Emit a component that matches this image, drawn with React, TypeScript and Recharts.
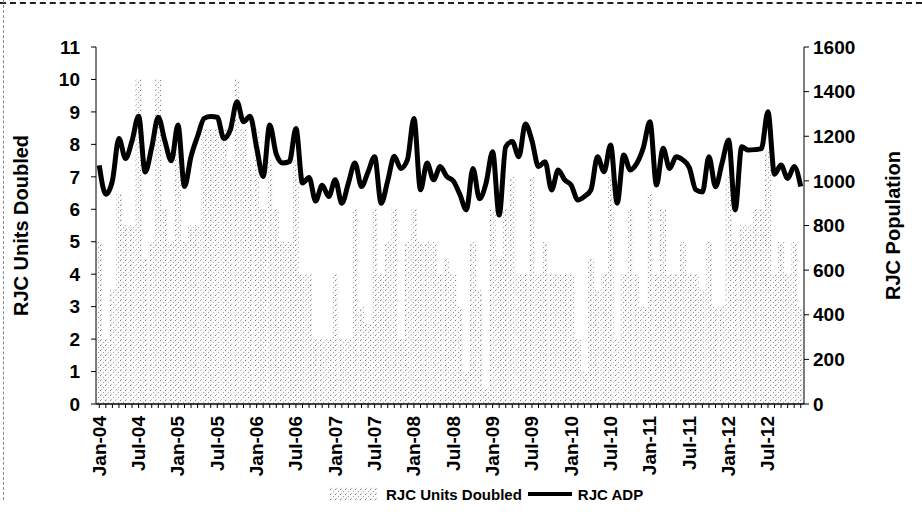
import { ComposedChart, Bar, Line, XAxis, YAxis, Label } from "recharts";

const MONTHS = ["Jan", "Feb", "Mar", "Apr", "May", "Jun", "Jul", "Aug", "Sep", "Oct", "Nov", "Dec"];
const YEARS = ["04", "05", "06", "07", "08", "09", "10", "11", "12"];
const categories = YEARS.flatMap((y) => MONTHS.map((m) => `${m}-${y}`));

// RJC Units Doubled (left axis), one value per month
const unitsDoubled = [
  5, 2, 3.5, 6.5, 5.5, 5.5, 10, 4.5, 5, 10, 6, 5,
  8.5, 5, 5.5, 5.5, 8.5, 8.5, 8.5, 8.5, 7.5, 10, 8.5, 7.5,
  8.5, 6, 7.5, 6, 5, 5, 7.5, 4, 4, 2, 2, 2,
  4, 2, 2, 6, 3, 2.5, 6, 4, 5, 6, 2, 5,
  6, 5, 5, 5, 4, 4.5, 4, 3, 1, 5, 3.5, 0.5,
  6, 4.5, 6, 7, 4, 4, 7, 4, 5, 4, 4, 4,
  4, 2, 1, 4.5, 3.5, 4, 7, 2, 4, 6, 4, 3,
  6.5, 4, 6, 4, 4, 5, 4, 4, 3.5, 5, 3, 3,
  7, 5, 5.5, 5.5, 6, 6, 7.8, 4, 5, 4, 5, 3,
];

// RJC ADP (right axis)
const adp = [
  1070, 940, 1000, 1190, 1100, 1180, 1290, 1040, 1150, 1285, 1180, 1090,
  1250, 975, 1110, 1200, 1280, 1288, 1285, 1190, 1230, 1355, 1265, 1290,
  1150, 1020, 1250, 1120, 1080, 1086, 1235, 990, 1015, 910, 980, 930,
  1005, 900, 990, 1080, 975, 1040, 1108, 900, 1000, 1110, 1056, 1094,
  1280, 960, 1080, 1005, 1064, 1020, 1000, 940, 870, 1056, 920, 990,
  1131, 847, 1153, 1176, 1108, 1255, 1180, 1064, 1086, 959, 1049, 1004,
  980, 914, 930, 960, 1108, 1041, 1161, 900, 1116, 1049, 1079, 1150,
  1265, 981, 1146, 1056, 1108, 1094, 1060, 960, 950, 1108, 974, 1080,
  1183, 870, 1153, 1138, 1140, 1145, 1310, 1030, 1071, 1011, 1064, 975,
];

const leftTicks = [0, 1, 2, 3, 4, 5, 6, 7, 8, 9, 10, 11];
const rightTicks = [0, 200, 400, 600, 800, 1000, 1200, 1400, 1600];

const data = categories.map((month, i) => ({ month, units: unitsDoubled[i], adp: adp[i] }));

const FONT = "'Liberation Sans', Arial, sans-serif";
const tickStyle = { fontSize: 19, fill: "#000", fontFamily: FONT, fontWeight: 700 };
const titleStyle = { fontSize: 20, fill: "#000", fontFamily: FONT, fontWeight: 700, textAnchor: "middle" as const };

const MonthTick = ({ x, y, payload, index }: any) => {
  if (index % 6 !== 0) return null;
  return (
    <text
      x={x}
      y={y + 6}
      transform={`rotate(-90, ${x}, ${y + 6})`}
      textAnchor="end"
      dominantBaseline="central"
      {...tickStyle}
    >
      {payload.value}
    </text>
  );
};

export default function App() {
  return (
    <div style={{ position: "absolute", left: 0, top: 0, width: 922, height: 532, background: "#fff", fontFamily: FONT }}>
      <div style={{ position: "absolute", left: 0, top: 2, width: 922, borderTop: "2px dashed #222" }} />
      <div style={{ position: "absolute", left: 3, top: 0, height: 500, borderLeft: "1px dashed #888" }} />
      <ComposedChart width={922} height={532} data={data} margin={{ top: 47, right: 58, left: 36, bottom: 58 }} barCategoryGap="4%">
        <defs>
          <pattern id="stipple" width="5" height="5" patternUnits="userSpaceOnUse">
            <rect width="5" height="5" fill="#fafafa" />
            <rect x="0" y="0" width="1" height="1" fill="#808080" />
            <rect x="3" y="2" width="1" height="1" fill="#a0a0a0" />
            <rect x="1" y="4" width="1" height="1" fill="#c0c0c0" />
          </pattern>
        </defs>
        <XAxis
          dataKey="month"
          interval={0}
          height={70}
          tick={<MonthTick />}
          tickSize={4}
          axisLine={{ stroke: "#000", strokeWidth: 1.5 }}
          tickLine={{ stroke: "#000" }}
        />
        <YAxis
          yAxisId="left"
          domain={[0, 11]}
          ticks={leftTicks}
          interval={0}
          width={60}
          tickSize={5}
          tickMargin={11}
          tick={tickStyle}
          axisLine={{ stroke: "#000" }}
          tickLine={{ stroke: "#000" }}
        >
          <Label value="RJC Units Doubled" angle={-90} position="left" offset={15} style={titleStyle} />
        </YAxis>
        <YAxis
          yAxisId="right"
          orientation="right"
          domain={[0, 1600]}
          ticks={rightTicks}
          interval={0}
          width={60}
          tickSize={5}
          tickMargin={4}
          tick={tickStyle}
          axisLine={{ stroke: "#000" }}
          tickLine={{ stroke: "#000" }}
        >
          <Label value="RJC Population" angle={-90} position="right" offset={29} style={titleStyle} />
        </YAxis>
        <Bar yAxisId="left" dataKey="units" name="RJC Units Doubled" fill="url(#stipple)" isAnimationActive={false} />
        <Line
          yAxisId="right"
          type="monotone"
          dataKey="adp"
          name="RJC ADP"
          stroke="#000"
          strokeWidth={5}
          dot={false}
          isAnimationActive={false}
        />
      </ComposedChart>
      <div style={{ position: "absolute", top: 484, left: 330, display: "flex", alignItems: "center", fontSize: 15, fontWeight: 700, color: "#000", whiteSpace: "nowrap" }}>
        <svg width={50} height={20} style={{ marginRight: 6 }}>
          <rect x={0} y={3} width={48} height={14} fill="url(#stipple)" />
        </svg>
        <span>RJC Units Doubled</span>
        <svg width={48} height={20} style={{ margin: "0 4px" }}>
          <line x1={2} y1={10} x2={46} y2={10} stroke="#000" strokeWidth={4} />
        </svg>
        <span>RJC ADP</span>
      </div>
    </div>
  );
}
